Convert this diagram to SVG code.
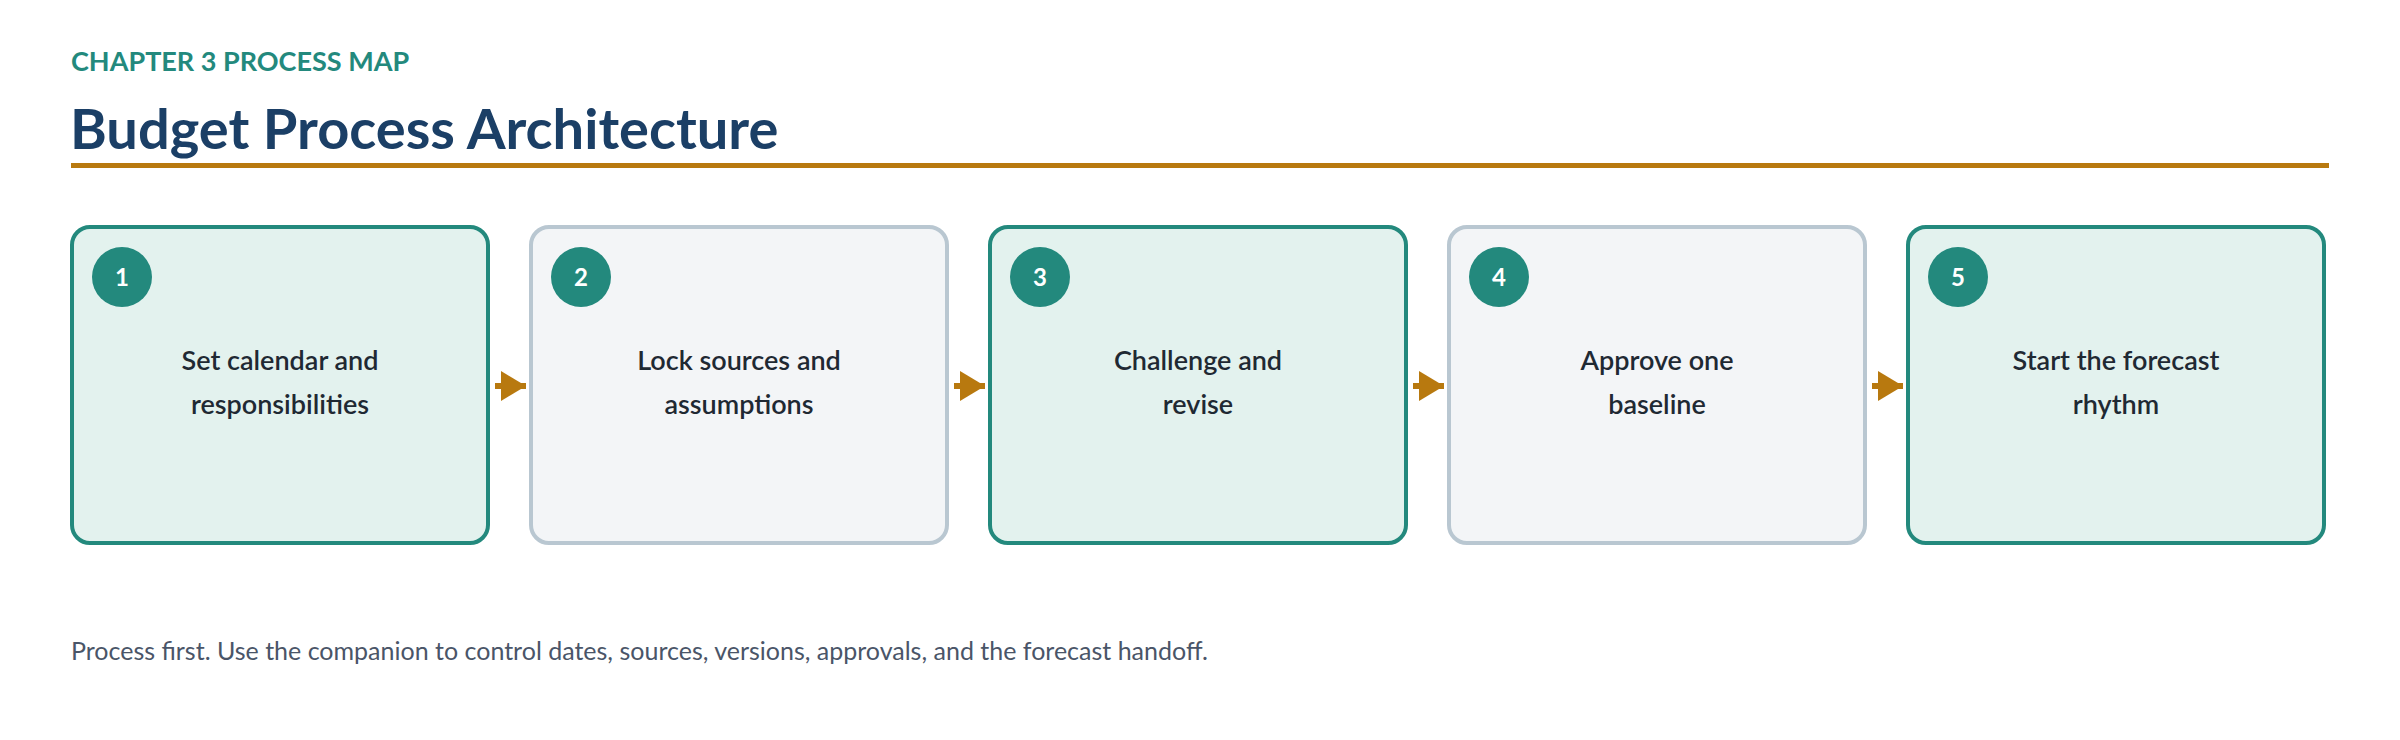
<svg xmlns="http://www.w3.org/2000/svg" width="2400" height="740" viewBox="0 0 2400 740">
<style>
.k{font-family:Lato,"Open Sans",sans-serif}
.box{stroke-width:4}
.a{fill:#e3f2ee;stroke:#23897d}
.b{fill:#f3f5f7;stroke:#b9c7d1}
.badge{fill:#23897d}
.num{fill:#fff;font-size:24px;font-weight:700;text-anchor:middle}
.lbl{fill:#1f2933;font-size:27px;font-weight:600;text-anchor:middle}
.con{stroke:#b8790f;stroke-width:6}
</style>
<defs><marker id="ar" markerWidth="10" markerHeight="10" refX="9" refY="5" orient="auto" markerUnits="userSpaceOnUse" viewBox="0 0 10 10"><path d="M0,0 L10,5 L0,10 z" fill="#b8790f"/></marker></defs>
<rect width="2400" height="740" fill="#fff"/>
<text class="k" x="71" y="71" font-size="27" font-weight="700" fill="#23897d">CHAPTER 3 PROCESS MAP</text>
<text class="k" x="70" y="149" font-size="56" font-weight="700" fill="#1b3f66">Budget Process Architecture</text>
<rect x="71" y="163" width="2258" height="5" fill="#b8790f"/>
<g id="connectors">
<path d="M0,0" />
<line class="con" x1="495" y1="386" x2="526" y2="386"/><path d="M501,371 L526,386 L501,401 z" fill="#b8790f"/>
<line class="con" x1="954" y1="386" x2="985" y2="386"/><path d="M960,371 L985,386 L960,401 z" fill="#b8790f"/>
<line class="con" x1="1413" y1="386" x2="1444" y2="386"/><path d="M1419,371 L1444,386 L1419,401 z" fill="#b8790f"/>
<line class="con" x1="1872" y1="386" x2="1903" y2="386"/><path d="M1878,371 L1903,386 L1878,401 z" fill="#b8790f"/>
</g>
<g id="n1"><rect class="box a" x="72" y="227" width="416" height="316" rx="18"/><circle class="badge" cx="122" cy="277" r="30"/><text class="k num" x="122" y="286">1</text><text class="k lbl" x="280" y="370">Set calendar and</text><text class="k lbl" x="280" y="414">responsibilities</text></g>
<g id="n2"><rect class="box b" x="531" y="227" width="416" height="316" rx="18"/><circle class="badge" cx="581" cy="277" r="30"/><text class="k num" x="581" y="286">2</text><text class="k lbl" x="739" y="370">Lock sources and</text><text class="k lbl" x="739" y="414">assumptions</text></g>
<g id="n3"><rect class="box a" x="990" y="227" width="416" height="316" rx="18"/><circle class="badge" cx="1040" cy="277" r="30"/><text class="k num" x="1040" y="286">3</text><text class="k lbl" x="1198" y="370">Challenge and</text><text class="k lbl" x="1198" y="414">revise</text></g>
<g id="n4"><rect class="box b" x="1449" y="227" width="416" height="316" rx="18"/><circle class="badge" cx="1499" cy="277" r="30"/><text class="k num" x="1499" y="286">4</text><text class="k lbl" x="1657" y="370">Approve one</text><text class="k lbl" x="1657" y="414">baseline</text></g>
<g id="n5"><rect class="box a" x="1908" y="227" width="416" height="316" rx="18"/><circle class="badge" cx="1958" cy="277" r="30"/><text class="k num" x="1958" y="286">5</text><text class="k lbl" x="2116" y="370">Start the forecast</text><text class="k lbl" x="2116" y="414">rhythm</text></g>
<text class="k" x="71" y="660" font-size="25" fill="#4a5568">Process first. Use the companion to control dates, sources, versions, approvals, and the forecast handoff.</text>
</svg>
